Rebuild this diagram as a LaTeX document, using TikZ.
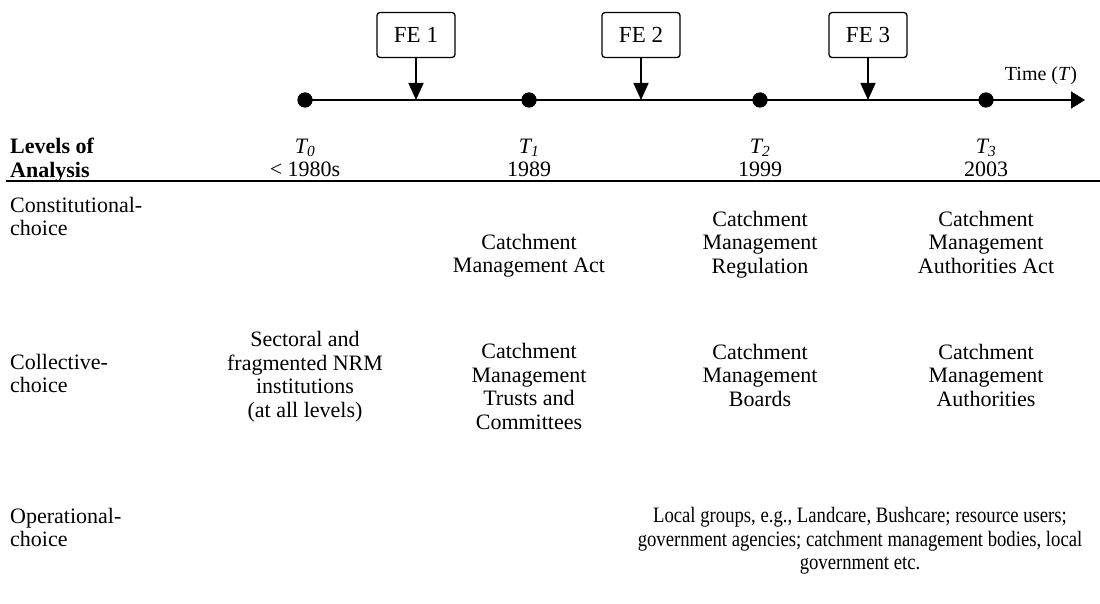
\documentclass[tikz,border=0pt]{standalone}
\usepackage{fontspec}
\setmainfont{Liberation Serif}
\usetikzlibrary{arrows.meta}
\begin{document}
\begin{tikzpicture}[x=1pt,y=-1pt,
  every node/.style={font=\fontsize{22}{23.5}\selectfont, inner sep=0pt},
  txt/.style={align=center, execute at begin node=\strut, execute at end node=\strut},
  lbl/.style={align=left, anchor=west, execute at begin node=\strut, execute at end node=\strut},
  dot/.style={circle, fill=black, minimum size=15pt},
  febox/.style={draw, rounded corners=3pt, line width=1.3pt, minimum width=78pt, minimum height=45pt, font=\fontsize{23}{25}\selectfont},
  tl/.style={line width=1.8pt},
  fearrow/.style={line width=1.5pt, -{Triangle[length=17pt,width=15pt]}},
]
\useasboundingbox (0,0) rectangle (1100,604);
% timeline
\node[dot] (t0) at (305,100) {};
\node[dot] (t1) at (529,100) {};
\node[dot] (t2) at (760,100) {};
\node[dot] (t3) at (986,100) {};
\coordinate (tend) at (1085,100);
\draw[tl, -{Triangle[length=14pt,width=17pt]}] (t0.center) -- (tend);
\node[dot] at (t0) {};
\node[dot] at (t1) {};
\node[dot] at (t2) {};
\node[dot] at (t3) {};
\node[font=\fontsize{20}{22}\selectfont] (time) at (1041,76) {Time (\textit{T})};
% FE boxes
\node[febox] (fe1) at (416,35) {FE 1};
\node[febox] (fe2) at (641,35) {FE 2};
\node[febox] (fe3) at (868,35) {FE 3};
\coordinate (a1) at (fe1.south |- t0);
\coordinate (a2) at (fe2.south |- t0);
\coordinate (a3) at (fe3.south |- t0);
\draw[fearrow] (fe1.south) -- (a1);
\draw[fearrow] (fe2.south) -- (a2);
\draw[fearrow] (fe3.south) -- (a3);
% header
\node[lbl, font=\fontsize{22}{23.5}\selectfont\bfseries] (lev) at (10,161.5) {Levels of\\Analysis};
\node[txt] (h0) at (305,161.5) {\textit{T\textsubscript{0}}\\\textless{} 1980s};
\node[txt] (h1) at (529,161.5) {\textit{T\textsubscript{1}}\\1989};
\node[txt] (h2) at (760,161.5) {\textit{T\textsubscript{2}}\\1999};
\node[txt] (h3) at (986,161.5) {\textit{T\textsubscript{3}}\\2003};
\coordinate (r0) at (6,181);
\coordinate (r1) at (1100,181);
\draw[line width=1.8pt] (r0) -- (r1);
% rows
\node[lbl] (con) at (10,220) {Constitutional-\\choice};
\node[lbl] (col) at (10,377) {Collective-\\choice};
\node[lbl] (ope) at (10,531) {Operational-\\choice};
\node[txt] (c1) at (529,257) {Catchment\\Management Act};
\node[txt] (c2) at (760,245.5) {Catchment\\Management\\Regulation};
\node[txt] (c3) at (986,245.5) {Catchment\\Management\\Authorities Act};
\node[txt] (k0) at (305,378) {Sectoral and\\fragmented NRM\\institutions\\(at all levels)};
\node[txt] (k1) at (529,390) {Catchment\\Management\\Trusts and\\Committees};
\node[txt] (k2) at (760,378.5) {Catchment\\Management\\Boards};
\node[txt] (k3) at (986,378.5) {Catchment\\Management\\Authorities};
\node[txt, font=\fontsize{22}{23.5}\selectfont\addfontfeatures{FakeStretch=0.85}] (o1) at (860,542) {Local groups, e.g., Landcare, Bushcare; resource users;\\government agencies; catchment management bodies, local\\government etc.};
\end{tikzpicture}
\end{document}
